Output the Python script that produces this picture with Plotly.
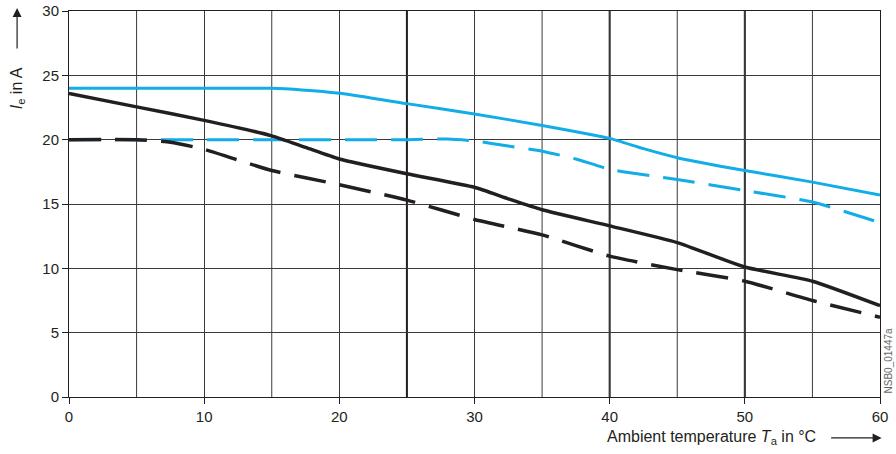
import plotly.graph_objects as go

# Data
blue_solid_x = [0, 5, 10, 15, 16, 20, 25, 30, 35, 40, 42.5, 45, 50, 55, 60]
blue_solid_y = [24, 24, 24, 24, 23.95, 23.6, 22.8, 22.0, 21.1, 20.1, 19.3, 18.6, 17.6, 16.7, 15.7]

blue_dash_x = [0, 5, 10, 15, 20, 25, 28, 30, 32.5, 35, 37.5, 40, 45, 50, 55, 60]
blue_dash_y = [20, 20, 20, 20, 20, 20, 20.05, 19.9, 19.5, 19.1, 18.5, 17.7, 16.9, 16.05, 15.15, 13.55]

black_solid_x = [0, 5, 10, 15, 17.5, 20, 25, 30, 32.5, 35, 40, 45, 50, 55, 60]
black_solid_y = [23.6, 22.55, 21.5, 20.3, 19.4, 18.5, 17.35, 16.3, 15.4, 14.55, 13.3, 12.0, 10.1, 9.0, 7.1]

black_dash_x = [0, 5, 7.5, 10, 15, 20, 25, 30, 35, 40, 45, 50, 55, 60]
black_dash_y = [20, 20, 19.8, 19.25, 17.6, 16.5, 15.3, 13.8, 12.6, 10.95, 9.9, 9.0, 7.5, 6.2]

x_ticks = [0, 10, 20, 30, 40, 50, 60]
y_ticks = [0, 5, 10, 15, 20, 25, 30]
minor_grid_x = [5, 15, 35, 45, 55]
bold_grid_x = [25, 40, 50]

BLUE = "#12ADE6"
BLACK = "#231F20"
GRID = "#3a3a3a"
DASH = "32px,14px"
SMOOTH = 0.5

fig = go.Figure()
fig.add_trace(go.Scatter(x=blue_solid_x, y=blue_solid_y, mode="lines",
                         line=dict(color=BLUE, width=3, shape="spline", smoothing=SMOOTH),
                         hoverinfo="skip"))
fig.add_trace(go.Scatter(x=blue_dash_x, y=blue_dash_y, mode="lines",
                         line=dict(color=BLUE, width=3, dash=DASH, shape="spline", smoothing=SMOOTH),
                         hoverinfo="skip"))
fig.add_trace(go.Scatter(x=black_solid_x, y=black_solid_y, mode="lines",
                         line=dict(color=BLACK, width=3.5, shape="spline", smoothing=SMOOTH),
                         hoverinfo="skip"))
fig.add_trace(go.Scatter(x=black_dash_x, y=black_dash_y, mode="lines",
                         line=dict(color=BLACK, width=3.5, dash=DASH, shape="spline", smoothing=SMOOTH),
                         hoverinfo="skip"))

font = dict(family="Liberation Sans, Arial, sans-serif", size=15, color="#231F20")
title_font = dict(family="Liberation Sans, Arial, sans-serif", size=16, color="#231F20")

fig.update_layout(
    width=896, height=454,
    margin=dict(l=69, r=16, t=11, b=57),
    paper_bgcolor="white", plot_bgcolor="white",
    showlegend=False,
    font=font,
    xaxis=dict(range=[0, 60], tickvals=x_ticks, ticks="outside", ticklen=6,
               tickcolor="#231F20", showgrid=True, gridcolor=GRID, gridwidth=1,
               zeroline=False, automargin=False,
               showline=True, linecolor="#231F20", linewidth=1, mirror=True,
               tickfont=font),
    yaxis=dict(range=[0, 30], tickvals=y_ticks, ticks="outside", ticklen=6,
               tickcolor="#231F20", showgrid=True, gridcolor=GRID, gridwidth=1,
               zeroline=False, automargin=False,
               showline=True, linecolor="#231F20", linewidth=1, mirror=True,
               tickfont=font),
)

for xv in minor_grid_x:
    fig.add_shape(type="line", xref="x", yref="paper", x0=xv, x1=xv, y0=0, y1=1,
                  line=dict(color=GRID, width=1), layer="below")
for xv in bold_grid_x:
    fig.add_shape(type="line", xref="x", yref="paper", x0=xv, x1=xv, y0=0, y1=1,
                  line=dict(color="#231F20", width=2), layer="below")

# Axis titles with arrows
fig.add_annotation(xref="paper", yref="paper", x=0.923, y=-0.106,
                   text="Ambient temperature <i>T</i><sub>a</sub> in °C",
                   showarrow=False, xanchor="right", yanchor="middle", font=title_font)
fig.add_annotation(xref="paper", yref="paper", x=1.002, y=-0.106, ax=-52, ay=0,
                   text="", showarrow=True, arrowhead=2, arrowsize=1.5, arrowwidth=1.2,
                   arrowcolor="#231F20")
fig.add_annotation(xref="paper", yref="paper", x=-0.064, y=0.80,
                   text="<i>I</i><sub>e</sub> in A", textangle=-90,
                   showarrow=False, xanchor="center", yanchor="middle", font=title_font)
fig.add_annotation(xref="paper", yref="paper", x=-0.064, y=1.008, ax=0, ay=42,
                   text="", showarrow=True, arrowhead=2, arrowsize=1.5, arrowwidth=1.2,
                   arrowcolor="#231F20")
fig.add_annotation(xref="paper", yref="paper", x=1.011, y=0.005,
                   text="NSB0_01447a", textangle=-90, showarrow=False,
                   xanchor="center", yanchor="bottom",
                   font=dict(family="Liberation Sans, Arial, sans-serif", size=10, color="#666"))

fig.write_html("out.html", config={"displayModeBar": False},
               post_script="document.body.style.margin='0';")
